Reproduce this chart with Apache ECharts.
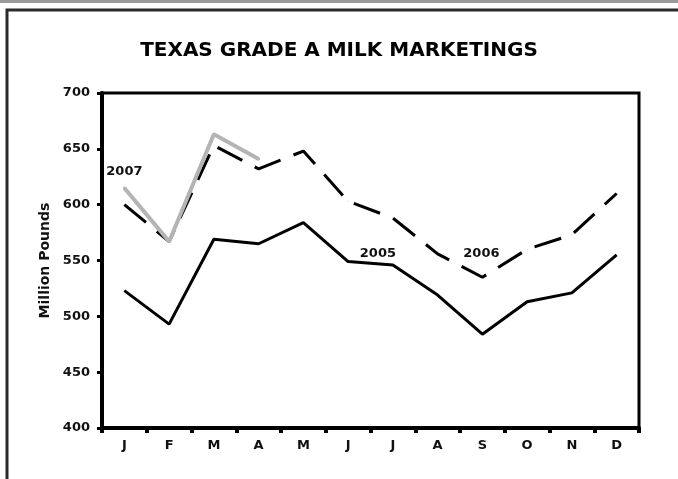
<!DOCTYPE html>
<html>
<head>
<meta charset="utf-8">
<script src="https://cdn.jsdelivr.net/npm/echarts@6/dist/echarts.min.js"></script>
<style>html,body{margin:0;padding:0;background:#fff;}#c{width:678px;height:479px;}</style>
</head>
<body>
<div id="c"></div>
<script>
var months = ['J','F','M','A','M','J','J','A','S','O','N','D'];
var y2005 = [523, 493, 569, 565, 584, 549, 546, 519, 484, 513, 521, 555];
var y2006 = [600, 567, 653, 632, 648, 603, 588, 556, 535, 560, 573, 610];
var y2007 = [615, 567, 663, 641];
var yTicks = [400, 450, 500, 550, 600, 650, 700];

var FONT = '"DejaVu Sans", "Liberation Sans", Arial, sans-serif';
var chart = echarts.init(document.getElementById('c'), null, {renderer: 'canvas'});

function withLabel(arr, idx, text, offset) {
  return arr.map(function (v, i) {
    if (i !== idx) return v;
    return {value: v, label: {show: true, formatter: text, position: 'top', offset: offset,
      color: '#111', fontFamily: FONT, fontWeight: 'bold', fontSize: 13}};
  });
}

chart.setOption({
  animation: false,
  backgroundColor: '#fff',
  title: {
    text: 'TEXAS GRADE A MILK MARKETINGS',
    left: 'center', top: 36,
    textStyle: {fontFamily: FONT, fontWeight: 'bold', fontSize: 20, color: '#000'}
  },
  graphic: [
    {type: 'rect', shape: {x: 0, y: 0, width: 678, height: 3}, style: {fill: '#9a9a9a'}},
    {type: 'rect', shape: {x: 7, y: 10, width: 700, height: 500}, style: {fill: 'none', stroke: '#2a2a2a', lineWidth: 3}}
  ],
  grid: {left: 102, top: 93, right: 39, bottom: 51, show: true, borderColor: '#000', borderWidth: 3, backgroundColor: 'transparent'},
  xAxis: {
    type: 'category', data: months, boundaryGap: true,
    axisLine: {lineStyle: {color: '#000', width: 4}},
    axisTick: {show: true, length: 5, inside: false, lineStyle: {color: '#000', width: 4}},
    axisLabel: {fontFamily: FONT, fontWeight: 'bold', fontSize: 13, color: '#111', margin: 11},
    splitLine: {show: false}
  },
  yAxis: {
    type: 'value', min: yTicks[0], max: yTicks[yTicks.length - 1], interval: 50,
    name: 'Million Pounds', nameLocation: 'middle', nameGap: 50, nameRotate: 90,
    nameTextStyle: {fontFamily: FONT, fontWeight: 'bold', fontSize: 14, color: '#111'},
    axisLine: {show: true, lineStyle: {color: '#000', width: 4}},
    axisTick: {show: true, length: 5, lineStyle: {color: '#000', width: 3}},
    axisLabel: {fontFamily: FONT, fontWeight: 'bold', fontSize: 13, color: '#111', margin: 12},
    splitLine: {show: false}
  },
  series: [
    {
      name: '2005', type: 'line', data: withLabel(y2005, 6, '2005', [-15, 0]),
      symbol: 'circle', symbolSize: 0.5, showSymbol: true,
      itemStyle: {color: '#000'}, lineStyle: {color: '#000', width: 3}, z: 3
    },
    {
      name: '2006', type: 'line', data: withLabel(y2006, 8, '2006', [-1, -12]),
      symbol: 'circle', symbolSize: 0.5, showSymbol: true,
      itemStyle: {color: '#000'}, lineStyle: {color: '#000', width: 3, type: [28, 14]}, z: 2
    },
    {
      name: '2007', type: 'line', data: withLabel(y2007, 0, '2007', [0, -3]),
      symbol: 'circle', symbolSize: 3, showSymbol: true,
      itemStyle: {color: '#b4b4b4'}, lineStyle: {color: '#b4b4b4', width: 4}, z: 4
    }
  ]
});
</script>
</body>
</html>
